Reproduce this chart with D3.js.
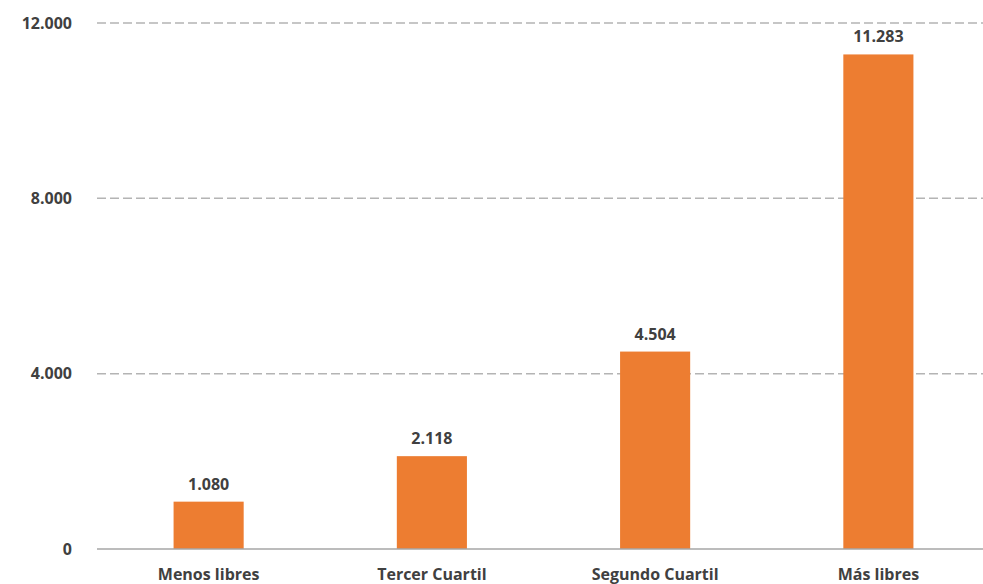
<!DOCTYPE html>
<html>
<head>
<meta charset="utf-8">
<script src="https://cdn.jsdelivr.net/npm/d3@7"></script>
<style>
  html, body { margin: 0; padding: 0; background: #fff; overflow: hidden; }
</style>
</head>
<body>
<div id="chart"></div>
<script>
// chart data
const categories = ["Menos libres", "Tercer Cuartil", "Segundo Cuartil", "Más libres"];
const values = [1080, 2118, 4504, 11283];
const yTicks = [0, 4000, 8000, 12000];

const W = 983, H = 584;
const fmt = v => d3.format(",")(v).replace(/,/g, ".");

const svg = d3.select("#chart")
  .append("svg")
    .attr("width", W)
    .attr("height", H)
    .style("font-family", "'Open Sans', sans-serif");

// scales
const x = d3.scaleBand()
  .domain(categories)
  .range([97, 990])
  .paddingInner(0.686)
  .paddingOuter(0.343);

const y = d3.scaleLinear()
  .domain([0, 12000])
  .range([549, 23]);

// dashed gridlines
svg.append("g")
  .selectAll("line")
  .data(yTicks.filter(d => d > 0))
  .enter().append("line")
    .attr("x1", 97)
    .attr("x2", W)
    .attr("y1", d => y(d))
    .attr("y2", d => y(d))
    .attr("stroke", "#b4b4b4")
    .attr("stroke-width", 1.5)
    .attr("stroke-dasharray", "9,4");

// y axis labels
const yAxis = svg.append("g")
  .attr("transform", "translate(72,0)")
  .call(d3.axisLeft(y).tickValues(yTicks).tickFormat(fmt).tickSize(0).tickPadding(0));
yAxis.select(".domain").remove();
yAxis.selectAll("text")
  .attr("fill", "#404040")
  .style("font-size", "16px")
  .style("font-weight", "bold")
  .style("font-family", "'Open Sans', sans-serif");

// bars
svg.selectAll(".bar")
  .data(values)
  .enter().append("rect")
    .attr("class", "bar")
    .attr("x", (d, i) => x(categories[i]))
    .attr("width", x.bandwidth())
    .attr("y", d => y(d))
    .attr("height", d => y(0) - y(d))
    .attr("fill", "#ED7D31");

// value labels
svg.selectAll(".val")
  .data(values)
  .enter().append("text")
    .attr("class", "val")
    .attr("x", (d, i) => x(categories[i]) + x.bandwidth() / 2)
    .attr("y", d => y(d) - 12)
    .attr("text-anchor", "middle")
    .attr("fill", "#404040")
    .style("font-size", "16px")
    .style("font-weight", "bold")
    .text(fmt);

// baseline
svg.append("line")
  .attr("x1", 97)
  .attr("x2", W)
  .attr("y1", y(0))
  .attr("y2", y(0))
  .attr("stroke", "#a6a6a6")
  .attr("stroke-width", 1.5);

// category labels
svg.selectAll(".cat")
  .data(categories)
  .enter().append("text")
    .attr("class", "cat")
    .attr("x", d => x(d) + x.bandwidth() / 2)
    .attr("y", 580)
    .attr("text-anchor", "middle")
    .attr("fill", "#404040")
    .style("font-size", "16px")
    .style("font-weight", "bold")
    .text(d => d);
</script>
</body>
</html>
